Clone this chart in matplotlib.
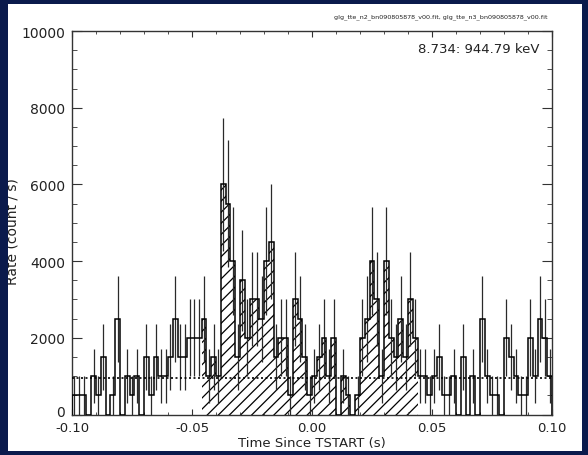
import numpy as np
import matplotlib
matplotlib.use("Agg")
import matplotlib.pyplot as plt
from matplotlib.patches import Rectangle
from matplotlib.ticker import MultipleLocator
from matplotlib.transforms import ScaledTranslation

# ---- data (2 ms bins from -0.1 s to 0.1 s), rates in count/s ----
bin_start = -0.1
bin_width = 0.002
rates = [
    500, 500, 500, 0, 1000, 500, 1500, 0, 500, 2500,
    0, 1000, 500, 1000, 0, 1500, 500, 1500, 1000, 1000,
    1500, 2500, 1500, 1500, 2000, 2000, 2000, 2500, 1000, 1500,
    1000, 6000, 5500, 4000, 1500, 3500, 2000, 3000, 3000, 2500,
    4000, 4500, 1500, 2000, 2000, 500, 3000, 2500, 1500, 500,
    1000, 1500, 2000, 1000, 2000, 0, 1000, 500, 0, 500,
    2000, 2500, 4000, 3000, 1000, 4000, 2000, 1500, 2500, 1500,
    3000, 2000, 1000, 1000, 500, 1000, 1500, 500, 500, 1000,
    0, 1500, 0, 1000, 0, 2500, 1000, 500, 500, 0,
    2000, 1500, 1000, 500, 500, 2000, 1000, 2500, 2000, 1000,
]
source_first_bin = 27
source_last_bin = 71
background_rate = 960
title_text = "glg_tte_n2_bn090805878_v00.fit, glg_tte_n3_bn090805878_v00.fit"
energy_text = "8.734: 944.79 keV"
x_label = "Time Since TSTART (s)"
y_label = "Rate (count / s)"
x_ticks = [-0.10, -0.05, 0.00, 0.05, 0.10]
x_ticklabels = ["-0.10", "-0.05", "0.00", "0.05", "0.10"]
y_ticks = [0, 2000, 4000, 6000, 8000, 10000]

rates = np.array(rates, dtype=float)
n = len(rates)
edges = bin_start + bin_width * np.arange(n + 1)
centers = edges[:-1] + bin_width / 2
counts = rates * bin_width
errs = np.sqrt(counts) / bin_width

W, H = 588, 456
fig = plt.figure(figsize=(W / 100, H / 100), dpi=100)
fig.patch.set_facecolor("white")
plt.rcParams["hatch.linewidth"] = 0.9

ax = fig.add_axes([72 / W, 1 - 415.5 / H, 480 / W, 383.5 / H])
ax.set_xlim(-0.1, 0.1)
ax.set_ylim(0, 10000)

# hatched source interval
src = slice(source_first_bin, source_last_bin + 1)
ax.bar(edges[:-1][src], rates[src], width=bin_width, align="edge",
       facecolor="white", edgecolor="black", hatch="///", linewidth=0, zorder=1)

# histogram
ax.stairs(rates, edges, color="black", linewidth=1.1, zorder=3)

# error bars
m = rates > 0
ax.vlines(centers[m], rates[m] - errs[m], rates[m] + errs[m],
          color="#2a2a2a", linewidth=0.9, zorder=2)

# background level
ax.axhline(background_rate, color="black", linestyle=(0, (1.2, 1.5)), linewidth=1.2, zorder=4)

for s in ax.spines.values():
    s.set_linewidth(1.0)
    s.set_color("#333333")

ax.set_xticks(x_ticks)
ax.set_xticklabels(x_ticklabels)
ax.xaxis.set_minor_locator(MultipleLocator(0.01))
ax.set_yticks(y_ticks)
ax.yaxis.set_minor_locator(MultipleLocator(500))
ax.tick_params(which="both", direction="in", top=True, right=True, colors="#333333",
               labelcolor="#222222", labelsize=9.5)
ax.tick_params(axis="y", which="major", length=7, pad=5, labelsize=10)
ax.tick_params(axis="y", which="minor", length=3.5)
ax.tick_params(axis="x", which="major", length=4, pad=4.5)
ax.tick_params(axis="x", which="minor", length=2.2)

# nudge the "0" y label up (as in the reference) so it clears "-0.10"
zero_lab = ax.yaxis.get_major_ticks()[0].label1
zero_lab.set_transform(zero_lab.get_transform() + ScaledTranslation(0, 4 / 100, fig.dpi_scale_trans))

fig.text(312 / W, 1 - 444 / H, x_label, ha="center", va="center", fontsize=9.5, color="#222222")
ax.text(0.975, 0.955, energy_text, transform=ax.transAxes, ha="right", va="center",
        fontsize=9.5, color="#222222")
fig.text(548 / W, 1 - 17 / H, title_text, ha="right", va="center", fontsize=4.6, color="#222222")
fig.text(13 / W, 1 - 232 / H, y_label, rotation=90, ha="center", va="center",
         fontsize=10, color="#222222")

navy = "#0a1a4c"
for rect in [(0, 0, 8 / W, 1), (582 / W, 0, 6 / W, 1), (0, 0, 1, 4 / H), (0, 1 - 5 / H, 1, 5 / H)]:
    fig.add_artist(Rectangle(rect[:2], rect[2], rect[3], transform=fig.transFigure,
                             facecolor=navy, edgecolor="none", zorder=10))

fig.savefig("out.png", dpi=100, facecolor=fig.get_facecolor())
